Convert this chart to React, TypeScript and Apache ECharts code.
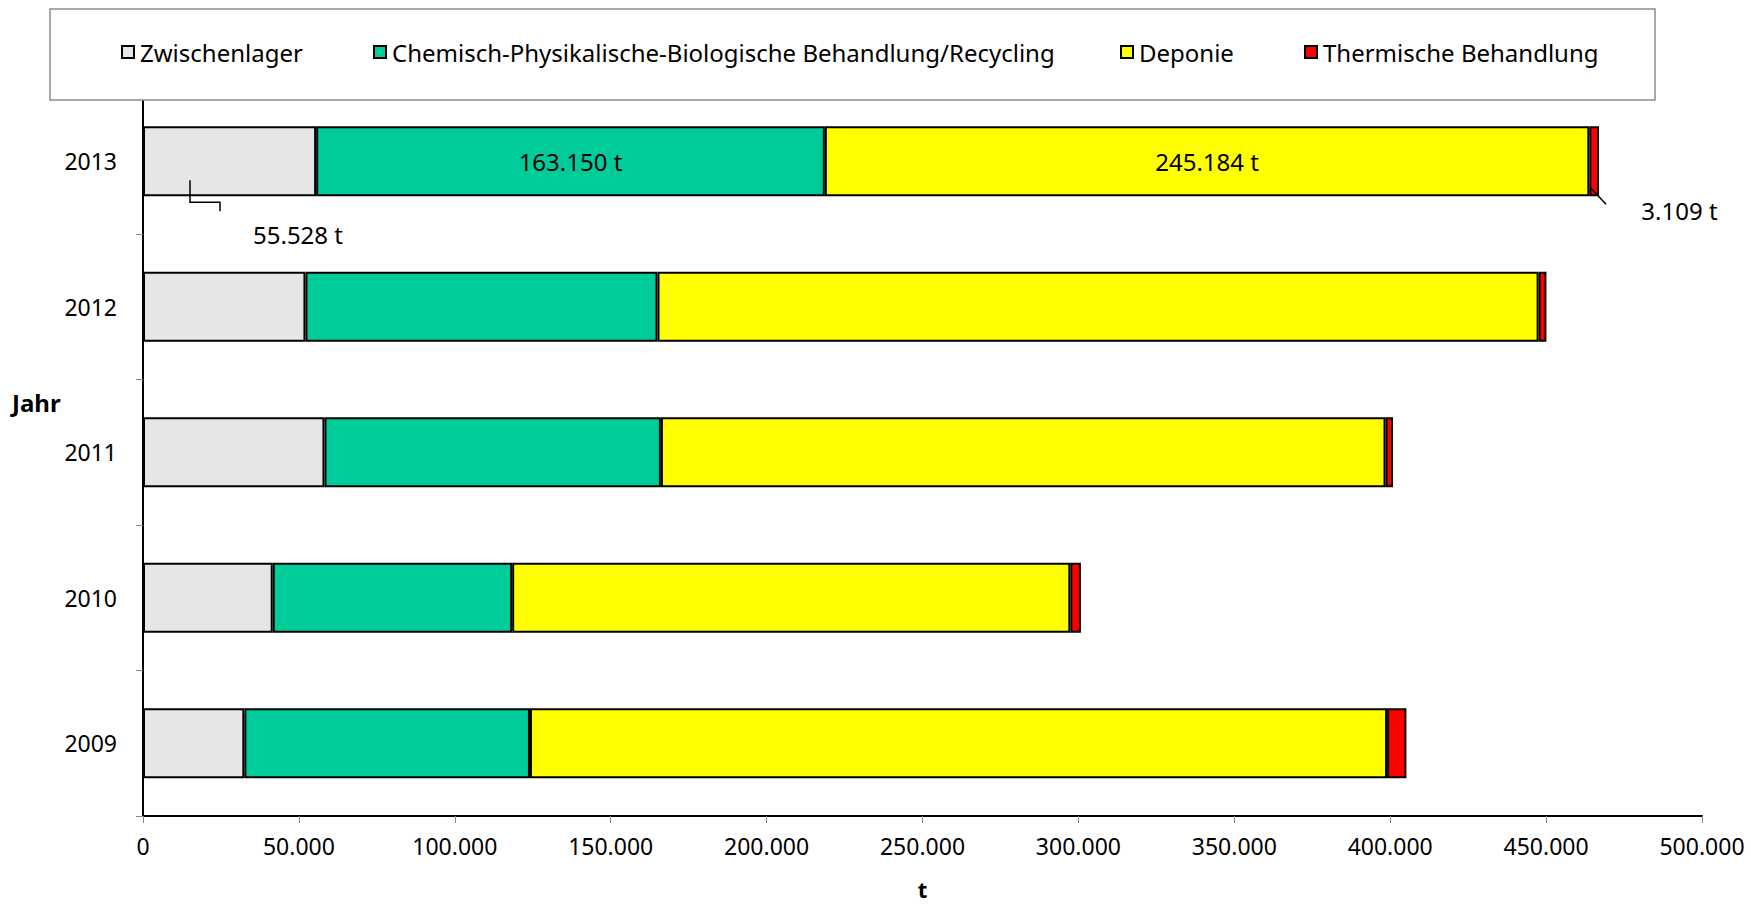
import React, { useEffect, useRef } from "react";
import * as echarts from "echarts";

// Jahre und Mengen je Entsorgungsweg (in t)
const years = ["2009", "2010", "2011", "2012", "2013"];
const zwischenlager = [32500, 41600, 58200, 52100, 55528];
const cpbRecycling = [91600, 76800, 107900, 112900, 163150];
const deponie = [274900, 179000, 232400, 282600, 245184];
const thermisch = [6200, 3400, 2400, 2500, 3109];

const seriesNames = [
  "Zwischenlager",
  "Chemisch-Physikalische-Biologische Behandlung/Recycling",
  "Deponie",
  "Thermische Behandlung",
];
const seriesColors = ["#E6E6E6", "#00CC99", "#FFFF00", "#FF0000"];
const xTicks = { min: 0, max: 500000, interval: 50000 };
const labelledYear = "2013";

const FONT = "'Noto Sans', sans-serif";

const fmt = (v: number) =>
  String(Math.round(v)).replace(/\B(?=(\d{3})+(?!\d))/g, ".");

export default function App() {
  const ref = useRef<HTMLDivElement>(null);

  useEffect(() => {
    document.body.style.margin = "0";
    document.body.style.overflow = "hidden";
    if (!ref.current) return;
    const chart = echarts.init(ref.current, null, { renderer: "svg" });
    const li = years.indexOf(labelledYear);

    const labelText = {
      fontFamily: FONT,
      fontSize: 24,
      color: "#000",
      formatter: (p: any) => fmt(p.value) + " t",
    };

    const build = (vals: number[], idx: number) =>
      vals.map((v, i) => {
        if (i !== li) return v;
        let label: any;
        if (idx === 0) {
          label = { show: true, position: [110, 108], align: "left", verticalAlign: "middle", ...labelText };
        } else if (idx === 3) {
          label = { show: true, position: [52, 84], align: "left", verticalAlign: "middle", ...labelText };
        } else {
          label = { show: true, position: "inside", ...labelText };
        }
        return { value: v, label };
      });

    const allVals = [zwischenlager, cpbRecycling, deponie, thermisch];
    const legendLefts = [121, 373, 1120, 1304];

    chart.setOption({
      animation: false,
      grid: { left: 143, right: 49, top: 88.5, bottom: 86, containLabel: false },
      legend: seriesNames.map((n, i) => ({
        data: [n],
        left: legendLefts[i],
        top: 40,
        z: 10,
        padding: 0,
        icon: "rect",
        itemWidth: 12,
        itemHeight: 12,
        itemGap: 0,
        textStyle: { fontFamily: FONT, fontSize: 24, color: "#000", padding: [0, 0, 0, 1] },
        itemStyle: { borderColor: "#000", borderWidth: 2 },
        selectedMode: false,
      })),
      xAxis: {
        type: "value",
        min: xTicks.min,
        max: xTicks.max,
        interval: xTicks.interval,
        name: "t",
        nameLocation: "middle",
        nameGap: 62,
        nameTextStyle: { fontFamily: FONT, fontSize: 22, fontWeight: "bold", color: "#000" },
        axisLine: { show: true, lineStyle: { color: "#000", width: 2 } },
        axisTick: { show: true, length: 7, lineStyle: { color: "#888", width: 1 } },
        axisLabel: {
          fontFamily: FONT,
          fontSize: 23,
          color: "#000",
          margin: 18,
          formatter: (v: number) => fmt(v),
        },
        splitLine: { show: false },
      },
      yAxis: {
        type: "category",
        data: years,
        axisLine: { show: true, lineStyle: { color: "#000", width: 2 } },
        axisTick: { show: true, length: 7, lineStyle: { color: "#888", width: 1 } },
        axisLabel: { fontFamily: FONT, fontSize: 23, color: "#000", margin: 26 },
      },
      series: seriesNames.map((n, i) => ({
        name: n,
        type: "bar",
        stack: "total",
        barCategoryGap: "52%",
        itemStyle: { color: seriesColors[i], borderColor: "#000", borderWidth: 2 },
        data: build(allVals[i], i),
      })),
    });

    // leader lines for the outside labels of the highlighted year
    const base = chart.convertToPixel({ gridIndex: 0 }, [0, li]) as number[];
    const total =
      zwischenlager[li] + cpbRecycling[li] + deponie[li] + thermisch[li];
    const end = chart.convertToPixel({ gridIndex: 0 }, [total, li]) as number[];
    const x0 = base[0];
    const yc = base[1];

    chart.setOption({
      graphic: [
        {
          type: "rect",
          z: 5,
          shape: { x: 50, y: 9, width: 1605, height: 91 },
          style: { fill: "#fff", stroke: "#8c8c8c", lineWidth: 1.5 },
        },
        {
          type: "text",
          z: 6,
          x: 12,
          y: 402,
          style: {
            text: "Jahr",
            fontFamily: FONT,
            fontSize: 24,
            fontWeight: "bold",
            fill: "#000",
            verticalAlign: "middle",
          },
        },
        {
          type: "polyline",
          z: 6,
          shape: {
            points: [
              [x0 + 47, yc + 19],
              [x0 + 47, yc + 41],
              [x0 + 77, yc + 41],
              [x0 + 77, yc + 50],
            ],
          },
          style: { stroke: "#000", lineWidth: 1.5, fill: "none" },
        },
        {
          type: "line",
          z: 6,
          shape: { x1: end[0] - 8, y1: yc + 27, x2: end[0] + 7, y2: yc + 43 },
          style: { stroke: "#000", lineWidth: 1.5 },
        },
      ],
    });

    return () => chart.dispose();
  }, []);

  return (
    <div
      ref={ref}
      style={{ position: "absolute", left: 0, top: 0, width: "1751px", height: "905px" }}
    />
  );
}
